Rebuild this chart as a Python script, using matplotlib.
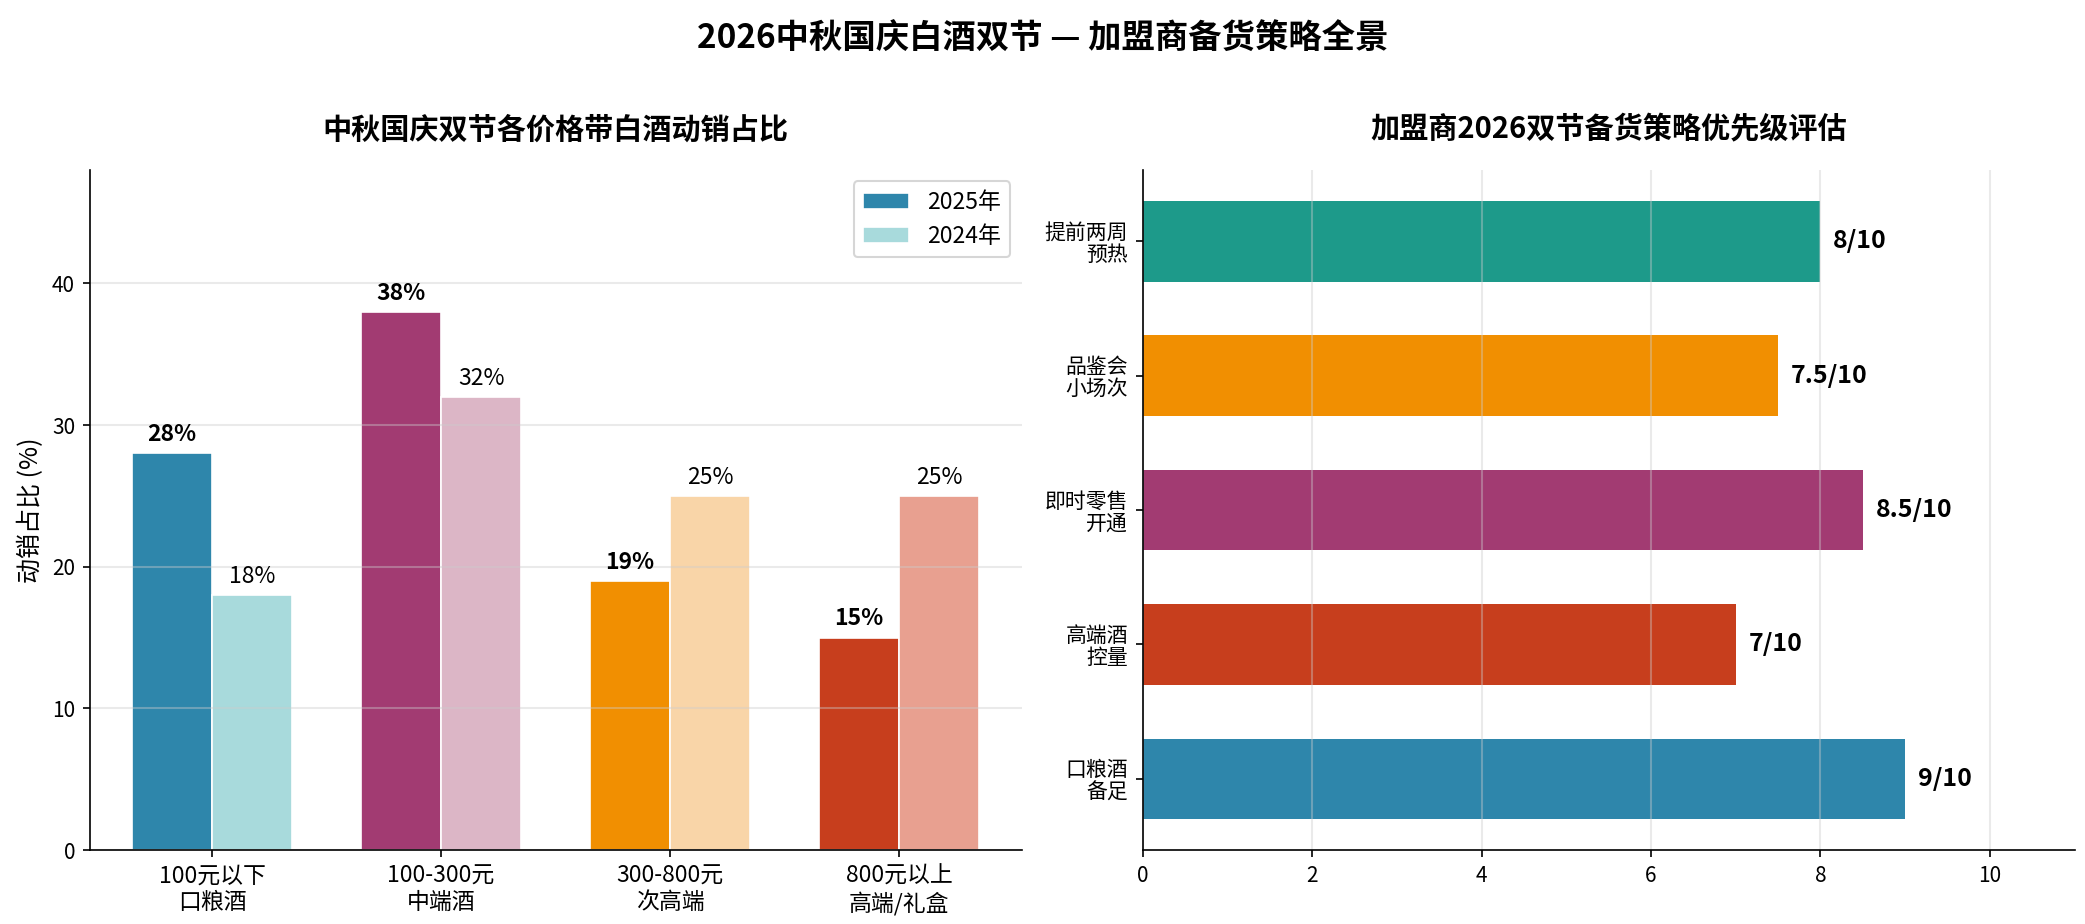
import matplotlib
matplotlib.use('Agg')
import matplotlib.pyplot as plt
import numpy as np

plt.rcParams['font.family'] = ['Noto Sans CJK SC', 'DejaVu Sans']
plt.rcParams['axes.unicode_minus'] = False

# Datos: panel izquierdo
categorias = ['100元以下\n口粮酒', '100-300元\n中端酒', '300-800元\n次高端', '800元以上\n高端/礼盒']
ventas_2025 = [28, 38, 19, 15]
ventas_2024 = [18, 32, 25, 25]
colores_2025 = ['#2E86AB', '#A23B72', '#F18F01', '#C73E1D']
colores_2024 = ['#A8DADC', '#DCB6C6', '#F9D5A8', '#E8A090']

# Datos: panel derecho
estrategias = ['口粮酒\n备足', '高端酒\n控量', '即时零售\n开通', '品鉴会\n小场次', '提前两周\n预热']
puntajes = [9, 7, 8.5, 7.5, 8]
colores_estr = ['#2E86AB', '#C73E1D', '#A23B72', '#F18F01', '#1D9A8A']

fig, (ax1, ax2) = plt.subplots(1, 2, figsize=(13.9, 6.16), dpi=150)
fig.subplots_adjust(left=0.043, right=0.995, bottom=0.08, top=0.816, wspace=0.13)

# Gráfico de barras agrupadas
x = np.arange(len(categorias))
w = 0.35
b1 = ax1.bar(x - w / 2, ventas_2025, w, color=colores_2025, edgecolor='white', linewidth=0.8, label='2025年')
b2 = ax1.bar(x + w / 2, ventas_2024, w, color=colores_2024, edgecolor='white', linewidth=0.8, label='2024年')
for r, v in zip(b1, ventas_2025):
    ax1.text(r.get_x() + r.get_width() / 2, v + 0.5, f'{v}%', ha='center', va='bottom',
             fontsize=11, fontweight='bold')
for r, v in zip(b2, ventas_2024):
    ax1.text(r.get_x() + r.get_width() / 2, v + 0.5, f'{v}%', ha='center', va='bottom', fontsize=11)
ax1.set_xticks(x)
ax1.set_xticklabels(categorias, fontsize=11)
ax1.set_ylim(0, 48)
ax1.set_yticks([0, 10, 20, 30, 40])
ax1.tick_params(axis='y', labelsize=10)
ax1.set_ylabel('动销占比 (%)', fontsize=12)
ax1.set_title('中秋国庆双节各价格带白酒动销占比', fontsize=14, fontweight='bold', pad=15)
ax1.grid(axis='y', color='#cccccc', alpha=0.4, linewidth=1)
ax1.spines['top'].set_visible(False)
ax1.spines['right'].set_visible(False)
ax1.legend(handles=[b1[0], b2[0]], labels=['2025年', '2024年'], loc='upper right', fontsize=11)

# Gráfico de barras horizontales
y = np.arange(len(estrategias))
barras = ax2.barh(y, puntajes, height=0.6, color=colores_estr)
for r, v in zip(barras, puntajes):
    ax2.text(v + 0.15, r.get_y() + r.get_height() / 2, f'{v:g}/10', va='center', ha='left',
             fontsize=12, fontweight='bold')
ax2.set_yticks(y)
ax2.set_yticklabels(estrategias, fontsize=10, linespacing=1.0)
ax2.set_xlim(0, 11)
ax2.set_xticks([0, 2, 4, 6, 8, 10])
ax2.tick_params(axis='x', labelsize=10)
ax2.set_title('加盟商2026双节备货策略优先级评估', fontsize=14, fontweight='bold', pad=15)
ax2.grid(axis='x', color='#cccccc', alpha=0.4, linewidth=1)
ax2.spines['top'].set_visible(False)
ax2.spines['right'].set_visible(False)

fig.suptitle('2026中秋国庆白酒双节 — 加盟商备货策略全景', fontsize=16, fontweight='bold', y=0.975)

plt.savefig('out.png', dpi=150)
